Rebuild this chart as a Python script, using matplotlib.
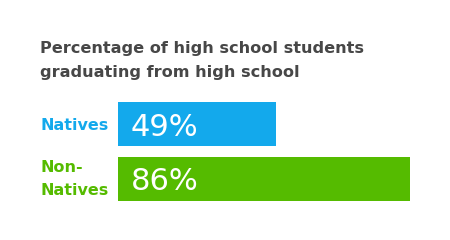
import matplotlib
matplotlib.use("Agg")
import matplotlib.pyplot as plt
from matplotlib.transforms import offset_copy, blended_transform_factory

categories = ["Natives", "Non-\nNatives"]
values = [49, 86]
value_labels = ["49%", "86%"]
title_lines = ["Percentage of high school students", "graduating from high school"]

colors = ["#13A9EC", "#55BB00"]

W, H = 450, 240
fig = plt.figure(figsize=(W / 100, H / 100), dpi=100)

# axes region in pixels
left_px, right_px = 118, 430
top_px, bottom_px = 102, 201
ax = fig.add_axes([left_px / W, 1 - bottom_px / H, (right_px - left_px) / W, (bottom_px - top_px) / H])

ypos = [0, 1]
ax.barh(ypos, values, height=0.8, color=colors, left=0)
# scale: 49 -> 276px, 86 -> 410px
s = (410 - 276) / (86 - 49)
x0 = 49 - (276 - left_px) / s
x1 = x0 + (right_px - left_px) / s
ax.set_xlim(x0, x1)
ax.set_ylim(1.4, -0.4)
ax.axis("off")

for y, lab in zip(ypos, value_labels):
    tr = offset_copy(ax.transData, fig=fig, x=0, y=-11.5, units="dots")
    ax.text(x0 + 12.5 / s, y, lab, color="white", fontsize=22, va="baseline", ha="left",
            family="DejaVu Sans", transform=tr)

line_gap = 22.7
for y, cat, c in zip(ypos, categories, colors):
    lines = cat.split("\n")
    n = len(lines)
    first = 6 if n == 1 else -6.5
    for i, ln in enumerate(lines):
        dy = first + i * line_gap
        tr = offset_copy(ax.transData, fig=fig, x=0, y=-dy, units="dots")
        ax.text(40 / W, y, ln, color=c, fontsize=11.5, fontweight="bold",
                va="baseline", ha="left", family="DejaVu Sans", clip_on=False,
                transform=blended_transform_factory(fig.transFigure, tr))

for i, ln in enumerate(title_lines):
    fig.text(40 / W, 1 - (53.5 + i * 23) / H, ln, color="#474747", fontsize=11.6,
             fontweight="bold", va="baseline", ha="left", family="DejaVu Sans")

fig.savefig("out.png", dpi=100)
